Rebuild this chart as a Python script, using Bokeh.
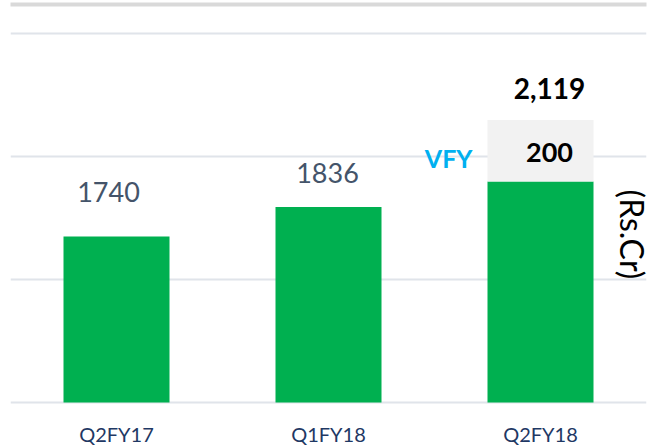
import math
from bokeh.plotting import figure
from bokeh.models import ColumnDataSource, FixedTicker, Range1d, FactorRange, BoxAnnotation, Label
from bokeh.transform import dodge
from bokeh.core.properties import value
from bokeh.embed import file_html
from bokeh.resources import INLINE

# ---- data ----
categories = ["Q2FY17", "Q1FY18", "Q2FY18"]
base_values = [1740, 1836, 1919]
vfy_values = [0, 0, 200]
y_ticks = [1200, 1600, 2000, 2400]
unit_label = "(Rs.Cr)"
vfy_name = "VFY"

totals = [b + v for b, v in zip(base_values, vfy_values)]

GREEN = "#00b050"
GREY = "#f2f2f2"
SLATE = "#44546a"
NAVY = "#1f3864"
CYAN = "#00b0f0"

W, H = 654, 446
ppu = (y_ticks[-1] - y_ticks[0]) / 369.0  # data units per pixel
y_end = y_ticks[-1] + 33 * ppu
y_start = y_ticks[0] - (H - 402) * ppu
DY = -10  # baseline correction for svg text

p = figure(width=W, height=H, x_range=FactorRange(*categories, range_padding=0),
           y_range=Range1d(y_start, y_end), output_backend="svg",
           toolbar_location=None, min_border_left=10, min_border_right=8,
           min_border_top=0, min_border_bottom=0)
p.outline_line_color = None
p.background_fill_color = "white"
p.border_fill_color = "white"
p.xaxis.visible = False
p.yaxis.visible = False

src = ColumnDataSource(dict(cat=categories, base=base_values, top=totals,
                            floor=[y_ticks[0]] * len(categories)))
p.vbar(x="cat", bottom="floor", top="base", width=0.5, fill_color=GREEN,
       line_color=None, source=src)
p.vbar(x="cat", bottom="base", top="top", width=0.5, fill_color=GREY,
       line_color=None, source=src)

# grid
p.ygrid.ticker = FixedTicker(ticks=y_ticks)
p.ygrid.grid_line_color = "#e0e4ea"
p.ygrid.grid_line_width = 2
p.xgrid.grid_line_color = None

# top band
p.add_layout(BoxAnnotation(left=0, right=W, top=2, bottom=6,
                           left_units="canvas", right_units="canvas",
                           top_units="canvas", bottom_units="canvas",
                           fill_color="#d9d9d9", fill_alpha=1, line_color=None))

# category labels
p.text(x=categories, y=[y_ticks[0]] * len(categories), text=categories,
       y_offset=41 + DY, text_align="center", text_baseline="alphabetic",
       text_font=value("Lato"), text_font_size="20px", text_color=NAVY)

# value labels for plain bars
plain = [i for i, v in enumerate(vfy_values) if v == 0]
p.text(x=[categories[i] for i in plain], y=[base_values[i] for i in plain],
       text=[str(base_values[i]) for i in plain],
       x_offset=[-8, -1], y_offset=[-34 + DY, -24 + DY],
       text_align="center", text_baseline="alphabetic",
       text_font=value("Lato"), text_font_size="27px", text_color=SLATE)

# stacked bar labels
stk = [i for i, v in enumerate(vfy_values) if v > 0]
ssrc = ColumnDataSource(dict(cat=[categories[i] for i in stk],
                             top=[totals[i] for i in stk],
                             vfy=[str(vfy_values[i]) for i in stk],
                             tot=[f"{totals[i]:,}" for i in stk],
                             name=[vfy_name for i in stk]))
p.text(x="cat", y="top", text="vfy", source=ssrc, x_offset=9, y_offset=43 + DY,
       text_align="center", text_baseline="alphabetic", text_font=value("Lato"),
       text_font_style="bold", text_font_size="27px", text_color="black")
p.text(x="cat", y="top", text="tot", source=ssrc, x_offset=9, y_offset=-21 + DY,
       text_align="center", text_baseline="alphabetic", text_font=value("Lato"),
       text_font_style="bold", text_font_size="28px", text_color="black")
p.text(x=dodge("cat", -0.25, range=p.x_range), y="top", text="name", source=ssrc,
       x_offset=-15, y_offset=48 + DY, text_align="right", text_baseline="alphabetic",
       text_font=value("Lato"), text_font_style="bold", text_font_size="25px",
       text_color=CYAN)

# unit label
p.add_layout(Label(x=3.0, y=y_ticks[0] + 168 * ppu, text=unit_label, angle=-math.pi / 2,
                   x_offset=-14, text_align="center", text_baseline="middle",
                   text_font="Lato", text_font_size="32px", text_color="black"))

open("out.html", "w").write(file_html(p, INLINE))
